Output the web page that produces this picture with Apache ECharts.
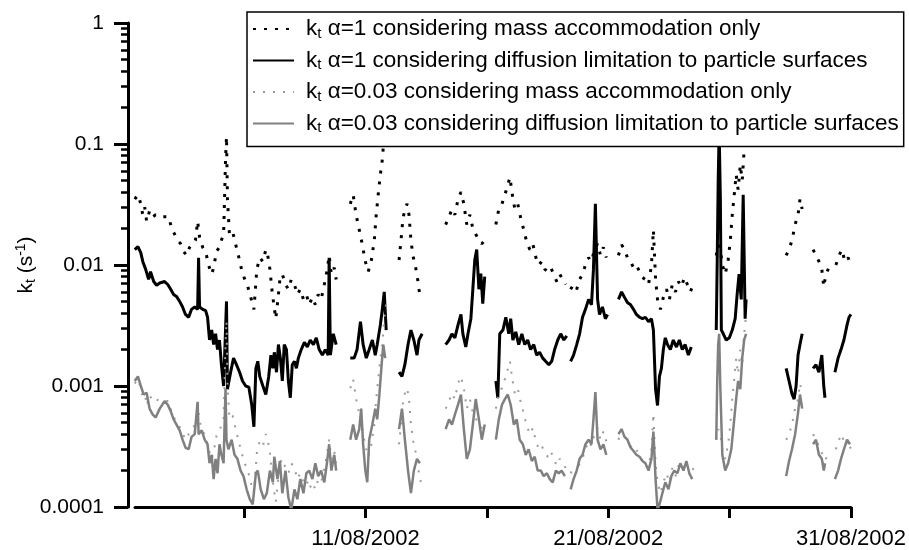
<!DOCTYPE html>
<html><head><meta charset="utf-8">
<script src="https://cdn.jsdelivr.net/npm/echarts@6/dist/echarts.min.js"></script>
<style>html,body{margin:0;padding:0;background:#fff}#c{width:909px;height:550px}</style>
</head><body><div id="c"></div>
<script>
// ---- labels ----
const seriesNames = [
  'α=1 considering mass accommodation only',
  'α=1 considering diffusion limitation to particle surfaces',
  'α=0.03 considering mass accommodation only',
  'α=0.03 considering diffusion limitation to particle surfaces'
];
const xTickDays = [6, 11, 16, 21, 26, 31];
const xLabelDays = [11, 21, 31];
const xLabelSuffix = '/08/2002';
const yTickValues = [0.0001, 0.001, 0.01, 0.1, 1];
const yTickLabels = ['0.0001', '0.001', '0.01', '0.1', '1'];

// ---- data: [day of August 2002, k_t (s^-1)], one inner array per continuous segment ----
const dottedAlpha1 = [
  [[1.49,0.035],[1.62,0.038],[1.74,0.032],[1.82,0.026],[1.90,0.030],[1.98,0.023],[2.10,0.028],[2.23,0.025],[2.35,0.026],[2.52,0.025],[2.72,0.025],[2.89,0.025],[3.01,0.020],[3.13,0.018],[3.25,0.016],[3.38,0.015],[3.50,0.013],[3.62,0.012],[3.75,0.014],[3.87,0.015],[3.99,0.016],[4.08,0.023],[4.16,0.017],[4.29,0.014],[4.41,0.013],[4.53,0.010],[4.66,0.0084],[4.74,0.0095],[4.86,0.013],[4.98,0.014],[5.06,0.016],[5.15,0.018],[5.19,0.035],[5.23,0.074],[5.27,0.115],[5.31,0.035],[5.39,0.018],[5.52,0.019],[5.64,0.015],[5.76,0.012],[5.89,0.0092],[6.02,0.0076],[6.15,0.0066],[6.27,0.0054],[6.40,0.0043],[6.52,0.0092],[6.64,0.0115],[6.77,0.0107],[6.89,0.0134],[6.97,0.012],[7.06,0.0092],[7.14,0.0063],[7.22,0.0047],[7.30,0.0036],[7.39,0.0052],[7.47,0.0076],[7.57,0.0084],[7.70,0.0069],[7.82,0.0063],[7.94,0.0076],[8.07,0.0069],[8.19,0.0057],[8.31,0.0063],[8.44,0.0052],[8.56,0.0057],[8.68,0.0047],[8.81,0.0054],[8.93,0.0047],[9.05,0.0057],[9.17,0.0052],[9.30,0.0069],[9.42,0.0092],[9.50,0.012],[9.59,0.0084],[9.71,0.0095],[9.79,0.0076]],
  [[10.37,0.032],[10.49,0.038],[10.61,0.026],[10.74,0.0195],[10.86,0.015],[10.99,0.0107],[11.11,0.0088],[11.24,0.011],[11.36,0.016],[11.44,0.026],[11.52,0.038],[11.61,0.056],[11.69,0.074],[11.77,0.12],[11.85,0.16]],
  [[12.38,0.011],[12.46,0.016],[12.54,0.024],[12.62,0.029],[12.71,0.032],[12.79,0.026],[12.87,0.016],[12.95,0.012],[13.04,0.010],[13.12,0.0084],[13.20,0.0063],[13.28,0.0052]],
  [[14.30,0.0216],[14.44,0.025],[14.56,0.029],[14.68,0.026],[14.81,0.035],[14.93,0.040],[15.05,0.032],[15.17,0.0216],[15.30,0.026],[15.42,0.020],[15.54,0.018],[15.67,0.016],[15.79,0.015],[15.91,0.016]],
  [[16.37,0.0216],[16.49,0.029],[16.62,0.032],[16.74,0.038],[16.86,0.046],[16.95,0.053],[17.03,0.040],[17.15,0.029],[17.27,0.032],[17.40,0.024],[17.52,0.0195],[17.64,0.0155],[17.77,0.0134],[17.89,0.015],[18.02,0.0115],[18.14,0.010],[18.26,0.0107],[18.39,0.0092],[18.51,0.0088],[18.63,0.0095],[18.75,0.0084],[18.88,0.0073],[19.00,0.0084],[19.12,0.0076],[19.25,0.0069]],
  [[19.45,0.0063],[19.57,0.0069],[19.70,0.0063],[19.82,0.0076],[19.94,0.0084],[20.06,0.010],[20.19,0.0115],[20.31,0.0107],[20.43,0.0134],[20.56,0.015],[20.68,0.012],[20.80,0.014],[20.92,0.0115]],
  [[21.42,0.012],[21.55,0.0147],[21.67,0.0134],[21.79,0.0115],[21.92,0.0107],[22.04,0.0095],[22.16,0.010],[22.29,0.0088],[22.41,0.0079],[22.53,0.0076],[22.66,0.0069],[22.78,0.010],[22.86,0.0195],[22.95,0.0076],[23.03,0.0052],[23.15,0.0043],[23.27,0.0054],[23.40,0.0063],[23.52,0.0052],[23.64,0.0069],[23.77,0.006],[23.89,0.0073],[24.01,0.0066],[24.14,0.0079],[24.26,0.0069],[24.38,0.006],[24.51,0.0069]],
  [[25.45,0.012],[25.53,0.0147],[25.62,0.0134],[25.70,0.010],[25.82,0.0084],[25.94,0.011],[26.03,0.016],[26.11,0.026],[26.19,0.038],[26.27,0.056],[26.35,0.042],[26.44,0.067],[26.52,0.05],[26.60,0.09],[26.68,0.13]],
  [[28.33,0.012],[28.45,0.0134],[28.57,0.016],[28.70,0.0216],[28.82,0.026],[28.90,0.035],[28.99,0.029]],
  [[29.44,0.0134],[29.56,0.012],[29.68,0.0107],[29.80,0.0092],[29.88,0.0066],[29.97,0.0084],[30.09,0.0095]],
  [[30.38,0.010],[30.51,0.012],[30.63,0.0134],[30.75,0.0107],[30.88,0.0115],[31.0,0.010]]
];

const solidAlpha1 = [
  [[1.49,0.0134],[1.62,0.0142],[1.74,0.0126],[1.82,0.0107],[1.94,0.0092],[2.06,0.0076],[2.14,0.0088],[2.27,0.0073],[2.39,0.0068],[2.52,0.0071],[2.72,0.0073],[2.85,0.0069],[2.97,0.0063],[3.09,0.0057],[3.21,0.0055],[3.34,0.0050],[3.46,0.0045],[3.58,0.0039],[3.71,0.0037],[3.83,0.0043],[3.96,0.0045],[4.08,0.0043],[4.12,0.0115],[4.16,0.0045],[4.29,0.0043],[4.41,0.0042],[4.49,0.0037],[4.57,0.0024],[4.66,0.0029],[4.74,0.0022],[4.82,0.0027],[4.90,0.0020],[4.98,0.0024],[5.06,0.0015],[5.15,0.0010],[5.23,0.0029],[5.27,0.0050],[5.31,0.00094],[5.44,0.0013],[5.56,0.0017],[5.68,0.0015],[5.81,0.0013],[5.93,0.0011],[6.06,0.0010],[6.19,0.00098],[6.31,0.0007],[6.40,0.00046],[6.48,0.0014],[6.56,0.0016],[6.64,0.0012],[6.77,0.0010],[6.89,0.00085],[7.01,0.0012],[7.10,0.0018],[7.18,0.0014],[7.24,0.0019],[7.33,0.0013],[7.41,0.0022],[7.49,0.0017],[7.57,0.0011],[7.65,0.0022],[7.74,0.0020],[7.82,0.0011],[7.90,0.0008],[7.98,0.0015],[8.07,0.0016],[8.15,0.0014],[8.23,0.0017],[8.35,0.0020],[8.48,0.0023],[8.60,0.0021],[8.72,0.0024],[8.85,0.0022],[8.97,0.0025],[9.09,0.0020],[9.22,0.0018],[9.34,0.0020],[9.46,0.0018],[9.50,0.0115],[9.55,0.0018],[9.67,0.0027],[9.79,0.0022]],
  [[10.37,0.0017],[10.53,0.0017],[10.65,0.002],[10.79,0.0034],[10.90,0.0022],[11.03,0.0017],[11.15,0.002],[11.28,0.0024],[11.40,0.0018],[11.48,0.0022],[11.61,0.0032],[11.69,0.0043],[11.77,0.006],[11.85,0.0029]],
  [[12.38,0.0013],[12.50,0.0012],[12.62,0.0015],[12.75,0.0022],[12.87,0.0029],[12.99,0.0024],[13.12,0.0018],[13.20,0.0024],[13.33,0.0027]],
  [[14.30,0.0022],[14.44,0.0024],[14.56,0.0027],[14.68,0.0025],[14.81,0.0032],[14.93,0.0039],[15.01,0.0027],[15.13,0.0021],[15.22,0.0027],[15.34,0.0036],[15.42,0.0063],[15.50,0.011],[15.58,0.0134],[15.67,0.0063],[15.75,0.0085],[15.83,0.0048],[15.91,0.008]],
  [[16.37,0.0011],[16.45,0.0008],[16.53,0.0027],[16.66,0.0029],[16.78,0.0037],[16.90,0.0027],[16.98,0.0036],[17.07,0.0024],[17.19,0.0028],[17.31,0.0022],[17.44,0.0027],[17.56,0.0022],[17.68,0.0024],[17.80,0.002],[17.93,0.0022],[18.05,0.0018],[18.17,0.0019],[18.30,0.0017],[18.42,0.0016],[18.55,0.0015],[18.67,0.0016],[18.79,0.002],[18.92,0.0024],[19.04,0.0027],[19.17,0.0024],[19.29,0.0026]],
  [[19.45,0.0016],[19.57,0.0018],[19.70,0.0022],[19.82,0.0027],[19.94,0.0037],[20.06,0.0043],[20.19,0.0052],[20.31,0.0047],[20.39,0.0092],[20.47,0.032],[20.56,0.0052],[20.64,0.0039],[20.76,0.0045],[20.88,0.0036],[20.97,0.0039]],
  [[21.42,0.0052],[21.55,0.006],[21.67,0.0054],[21.79,0.0049],[21.92,0.0047],[22.04,0.0043],[22.16,0.0039],[22.29,0.0037],[22.41,0.0036],[22.53,0.0037],[22.66,0.0034],[22.78,0.0036],[22.86,0.0029],[22.95,0.00094],[23.03,0.00069],[23.11,0.0012],[23.19,0.0014],[23.27,0.002],[23.35,0.0025],[23.44,0.0022],[23.56,0.002],[23.68,0.0024],[23.81,0.0021],[23.93,0.0024],[24.05,0.002],[24.17,0.0022],[24.30,0.0018],[24.42,0.0021]],
  [[25.45,0.0029],[25.49,0.011],[25.53,0.05],[25.57,0.13],[25.62,0.035],[25.66,0.0029],[25.74,0.0027],[25.86,0.0024],[25.99,0.0025],[26.11,0.0029],[26.23,0.0036],[26.31,0.0057],[26.39,0.0084],[26.48,0.0052],[26.56,0.038],[26.64,0.0036],[26.68,0.0052]],
  [[28.33,0.0014],[28.45,0.0011],[28.57,0.00086],[28.66,0.00078],[28.74,0.001],[28.82,0.0018],[28.90,0.0022],[28.99,0.0027]],
  [[29.44,0.0014],[29.56,0.0015],[29.68,0.0013],[29.80,0.0018],[29.88,0.001],[29.93,0.0008]],
  [[30.34,0.0013],[30.47,0.0017],[30.59,0.002],[30.71,0.0024],[30.84,0.0032],[30.92,0.0037],[31.0,0.0039]]
];

const dottedAlpha003 = [
  [[1.49,0.00105],[1.62,0.00114],[1.74,0.00096],[1.82,0.00078],[1.90,0.0009],[1.98,0.00069],[2.10,0.00084],[2.23,0.00075],[2.35,0.00078],[2.52,0.00075],[2.72,0.00075],[2.89,0.00075],[3.01,0.0006],[3.13,0.00054],[3.25,0.00048],[3.38,0.00045],[3.50,0.00039],[3.62,0.00036],[3.75,0.00042],[3.87,0.00045],[3.99,0.00048],[4.08,0.00069],[4.16,0.00051],[4.29,0.00042],[4.41,0.00039],[4.53,0.0003],[4.66,0.00025],[4.74,0.000285],[4.86,0.00039],[4.98,0.00042],[5.06,0.00048],[5.15,0.00054],[5.19,0.00105],[5.23,0.0022],[5.27,0.00345],[5.31,0.00105],[5.39,0.00054],[5.52,0.00057],[5.64,0.00045],[5.76,0.00036],[5.89,0.00028],[6.02,0.00023],[6.15,0.0002],[6.27,0.00016],[6.40,0.00013],[6.52,0.00028],[6.64,0.00035],[6.77,0.00032],[6.89,0.0004],[6.97,0.00036],[7.06,0.00028],[7.14,0.00019],[7.22,0.00014],[7.30,0.00011],[7.39,0.00016],[7.47,0.00023],[7.57,0.00025],[7.70,0.00021],[7.82,0.00019],[7.94,0.00023],[8.07,0.00021],[8.19,0.00017],[8.31,0.00019],[8.44,0.00016],[8.56,0.00017],[8.68,0.00014],[8.81,0.00016],[8.93,0.00014],[9.05,0.00017],[9.17,0.00016],[9.30,0.00021],[9.42,0.00028],[9.50,0.00036],[9.59,0.00025],[9.71,0.00029],[9.79,0.00023]],
  [[10.37,0.00096],[10.49,0.00114],[10.61,0.00078],[10.74,0.00059],[10.86,0.00045],[10.99,0.00032],[11.11,0.00026],[11.24,0.00033],[11.36,0.00048],[11.44,0.00078],[11.52,0.00114],[11.61,0.00168],[11.69,0.0022],[11.77,0.0036],[11.85,0.0048]],
  [[12.38,0.00033],[12.46,0.00048],[12.54,0.00072],[12.62,0.00087],[12.71,0.00096],[12.79,0.00078],[12.87,0.00048],[12.95,0.00036],[13.04,0.0003],[13.12,0.00025],[13.20,0.00019],[13.28,0.00016]],
  [[14.30,0.00065],[14.44,0.00075],[14.56,0.00087],[14.68,0.00078],[14.81,0.00105],[14.93,0.0012],[15.05,0.00096],[15.17,0.00065],[15.30,0.00078],[15.42,0.0006],[15.54,0.00054],[15.67,0.00048],[15.79,0.00045],[15.91,0.00048]],
  [[16.37,0.00065],[16.49,0.00087],[16.62,0.00096],[16.74,0.00114],[16.86,0.00138],[16.95,0.0016],[17.03,0.0012],[17.15,0.00087],[17.27,0.00096],[17.40,0.00072],[17.52,0.00059],[17.64,0.00047],[17.77,0.0004],[17.89,0.00045],[18.02,0.00035],[18.14,0.0003],[18.26,0.00032],[18.39,0.00028],[18.51,0.00026],[18.63,0.00029],[18.75,0.00025],[18.88,0.00022],[19.00,0.00025],[19.12,0.00023],[19.25,0.00021]],
  [[19.45,0.00019],[19.57,0.00021],[19.70,0.00019],[19.82,0.00023],[19.94,0.00025],[20.06,0.0003],[20.19,0.00035],[20.31,0.00032],[20.43,0.0004],[20.56,0.00045],[20.68,0.00036],[20.80,0.00042],[20.92,0.00035]],
  [[21.42,0.00036],[21.55,0.00044],[21.67,0.0004],[21.79,0.00035],[21.92,0.00032],[22.04,0.00029],[22.16,0.0003],[22.29,0.00026],[22.41,0.00024],[22.53,0.00023],[22.66,0.00021],[22.78,0.0003],[22.86,0.00059],[22.95,0.00023],[23.03,0.00016],[23.15,0.00013],[23.27,0.00016],[23.40,0.00019],[23.52,0.00016],[23.64,0.00021],[23.77,0.00018],[23.89,0.00022],[24.01,0.0002],[24.14,0.00024],[24.26,0.00021],[24.38,0.00018],[24.51,0.00021]],
  [[25.45,0.00036],[25.53,0.00044],[25.62,0.0004],[25.70,0.0003],[25.82,0.00025],[25.94,0.00033],[26.03,0.00048],[26.11,0.00078],[26.19,0.00114],[26.27,0.00168],[26.35,0.00126],[26.44,0.002],[26.52,0.0015],[26.60,0.0027],[26.68,0.0039]],
  [[28.33,0.00036],[28.45,0.0004],[28.57,0.00048],[28.70,0.00065],[28.82,0.00078],[28.90,0.00105],[28.99,0.00087]],
  [[29.44,0.0004],[29.56,0.00036],[29.68,0.00032],[29.80,0.00028],[29.88,0.0002],[29.97,0.00025],[30.09,0.00029]],
  [[30.38,0.0003],[30.51,0.00036],[30.63,0.0004],[30.75,0.00032],[30.88,0.00035],[31.0,0.0003]]
];

const solidAlpha003 = [
  [[1.49,0.0011],[1.62,0.0012],[1.74,0.0010],[1.86,0.00085],[1.98,0.00088],[2.10,0.00065],[2.23,0.00058],[2.35,0.00055],[2.52,0.00065],[2.72,0.00075],[2.85,0.0007],[2.97,0.00062],[3.09,0.00053],[3.21,0.00048],[3.34,0.00043],[3.46,0.00036],[3.58,0.00031],[3.71,0.0003],[3.83,0.00038],[3.96,0.0004],[4.08,0.00074],[4.12,0.0004],[4.25,0.00043],[4.37,0.00036],[4.49,0.00033],[4.57,0.00023],[4.66,0.00027],[4.74,0.00017],[4.82,0.00025],[4.90,0.00019],[4.98,0.00033],[5.06,0.00027],[5.15,0.00023],[5.23,0.00095],[5.27,0.00036],[5.35,0.0003],[5.48,0.00036],[5.60,0.00027],[5.72,0.00025],[5.85,0.0002],[5.97,0.00018],[6.10,0.00014],[6.23,0.000116],[6.35,0.000105],[6.48,0.00019],[6.56,0.0002],[6.68,0.00014],[6.81,0.000116],[6.93,0.00013],[7.06,0.0002],[7.18,0.00016],[7.24,0.00026],[7.37,0.00017],[7.47,0.00024],[7.57,0.00013],[7.70,0.0002],[7.82,0.00012],[7.94,0.000095],[8.07,0.00014],[8.19,0.000116],[8.31,0.00017],[8.44,0.00013],[8.56,0.00019],[8.68,0.0002],[8.81,0.00017],[8.93,0.00023],[9.05,0.00018],[9.17,0.0002],[9.30,0.00016],[9.42,0.00024],[9.50,0.00033],[9.59,0.0002],[9.71,0.00027],[9.79,0.0002]],
  [[10.37,0.00036],[10.49,0.00048],[10.61,0.00036],[10.74,0.00044],[10.82,0.00065],[10.90,0.00033],[10.99,0.0002],[11.07,0.00016],[11.15,0.00036],[11.28,0.00048],[11.40,0.00065],[11.48,0.00053],[11.57,0.00085],[11.65,0.0014],[11.73,0.0022],[11.81,0.0017]],
  [[12.38,0.00044],[12.50,0.00065],[12.62,0.00036],[12.75,0.0002],[12.87,0.00013],[12.99,0.0002],[13.12,0.00025],[13.24,0.00023]],
  [[14.30,0.00044],[14.44,0.00053],[14.56,0.00048],[14.68,0.00058],[14.81,0.0007],[14.93,0.00085],[15.05,0.00044],[15.17,0.00025],[15.30,0.0003],[15.42,0.00048],[15.54,0.00078],[15.67,0.00053],[15.79,0.00036],[15.91,0.00048]],
  [[16.37,0.00036],[16.49,0.00053],[16.62,0.0007],[16.74,0.00078],[16.86,0.00085],[16.98,0.0007],[17.11,0.00048],[17.23,0.00053],[17.35,0.00036],[17.48,0.00033],[17.60,0.00027],[17.72,0.0003],[17.85,0.00024],[17.97,0.00026],[18.09,0.0002],[18.22,0.0002],[18.34,0.00018],[18.47,0.00019],[18.59,0.00017],[18.71,0.00016],[18.84,0.0002],[18.96,0.00019],[19.08,0.0002],[19.21,0.00018]],
  [[19.45,0.00014],[19.57,0.00017],[19.70,0.0002],[19.82,0.00025],[19.94,0.00027],[20.06,0.00033],[20.19,0.00036],[20.31,0.00033],[20.39,0.00053],[20.47,0.00089],[20.56,0.00036],[20.68,0.0003],[20.80,0.00033],[20.92,0.00027]],
  [[21.42,0.0004],[21.55,0.00044],[21.67,0.00038],[21.79,0.00036],[21.92,0.00031],[22.04,0.00029],[22.16,0.00027],[22.29,0.00026],[22.41,0.00024],[22.53,0.00023],[22.66,0.0002],[22.78,0.00025],[22.86,0.00042],[22.95,0.00017],[23.03,0.000095],[23.11,0.000105],[23.23,0.00013],[23.35,0.00016],[23.48,0.00014],[23.60,0.00018],[23.72,0.0002],[23.85,0.00019],[23.97,0.00023],[24.10,0.0002],[24.22,0.00024],[24.34,0.00019],[24.46,0.00017]],
  [[25.45,0.00036],[25.49,0.0011],[25.53,0.0022],[25.57,0.0027],[25.62,0.00094],[25.70,0.00027],[25.82,0.0002],[25.94,0.00023],[26.07,0.0003],[26.19,0.00053],[26.27,0.00078],[26.35,0.0011],[26.44,0.00094],[26.52,0.0017],[26.60,0.0024],[26.68,0.0027]],
  [[28.33,0.00018],[28.45,0.00024],[28.57,0.0003],[28.70,0.0004],[28.82,0.0006],[28.90,0.00085],[28.99,0.00065]],
  [[29.44,0.00033],[29.56,0.00036],[29.68,0.00027],[29.80,0.00025],[29.88,0.0002],[29.93,0.00023]],
  [[30.34,0.00017],[30.47,0.0002],[30.59,0.00025],[30.71,0.0003],[30.84,0.00036],[30.96,0.00033]]
];

// ---- build ----
function joinSegments(segs) {
  const out = [];
  segs.forEach((s, i) => {
    if (i > 0) {
      const prev = segs[i - 1];
      out.push([(prev[prev.length - 1][0] + s[0][0]) / 2, '-']);
    }
    s.forEach(p => out.push(p));
  });
  return out;
}
const yMinorTicks = [];
[-4, -3, -2, -1].forEach(e => { for (let m = 2; m <= 9; m++) yMinorTicks.push(m * Math.pow(10, e)); });

const FONT = '"Liberation Sans", Arial, Helvetica, sans-serif';
function richKt(big, small) {
  return {
    k: { fontSize: big, fontFamily: FONT, color: '#000', lineHeight: 24 },
    t: { fontSize: small, fontFamily: FONT, color: '#000', lineHeight: 14, padding: [10, 0, 0, 0], verticalAlign: 'bottom' },
    r: { fontSize: big, fontFamily: FONT, color: '#000', lineHeight: 24 },
    sup: { fontSize: small, fontFamily: FONT, color: '#000', lineHeight: 14, padding: [0, 0, 10, 0], verticalAlign: 'top' }
  };
}
const legendRich = richKt(22.5, 15);
legendRich.k.padding = [0, 0, 0, 7];

const chart = echarts.init(document.getElementById('c'), null, { renderer: 'canvas' });
const styles = [
  { color: '#000', lineStyle: { color: '#000', width: 3, type: [3, 8], cap: 'butt' } },
  { color: '#000', lineStyle: { color: '#000', width: 3, type: 'solid' } },
  { color: '#9a9a9a', lineStyle: { color: '#9a9a9a', width: 2, type: [2, 8], cap: 'butt' } },
  { color: '#808080', lineStyle: { color: '#808080', width: 2.5, type: 'solid' } }
];
const allData = [dottedAlpha1, solidAlpha1, dottedAlpha003, solidAlpha003];

chart.setOption({
  animation: false,
  backgroundColor: '#fff',
  grid: { left: 135, right: 56, top: 23, bottom: 42, containLabel: false },
  legend: {
    orient: 'vertical', left: 247, top: 12,
    padding: [4, 5, 11, 5], itemGap: 6.5, itemWidth: 41, itemHeight: 14,
    borderColor: '#000', borderWidth: 1.5, backgroundColor: '#fff', borderRadius: 0,
    selectedMode: false, z: 10,
    itemStyle: { opacity: 0, borderWidth: 0 },
    data: seriesNames,
    formatter: n => '{k|k}{t|t}{r| ' + n + '}',
    textStyle: { fontFamily: FONT, fontSize: 22.5, color: '#000', rich: legendRich }
  },
  xAxis: {
    type: 'value', min: 1.5, max: 31,
    axisLine: { show: true, lineStyle: { color: '#000', width: 3 } },
    axisTick: { show: true, customValues: xTickDays, length: 11, lineStyle: { color: '#000', width: 3 } },
    axisLabel: { customValues: xLabelDays, margin: 21, fontSize: 22, fontFamily: FONT, color: '#000',
      formatter: v => (v < 10 ? '0' : '') + Math.round(v) + xLabelSuffix },
    splitLine: { show: false }
  },
  yAxis: [{
    type: 'log', logBase: 10, min: 0.0001, max: 1, position: 'left', offset: 7,
    axisLine: { show: true, onZero: false, lineStyle: { color: '#000', width: 3 } },
    axisTick: { show: true, customValues: yTickValues, length: 14, lineStyle: { color: '#000', width: 3 } },
    axisLabel: { customValues: yTickValues, margin: 24, fontSize: 21, fontFamily: FONT, color: '#000',
      formatter: v => yTickLabels[Math.round(Math.log10(v)) + 4] },
    splitLine: { show: false },
    name: '{k|k}{t|t}{r| (s}{sup|-1}{r|)}', nameLocation: 'middle', nameRotate: 90, nameGap: 90,
    nameMoveOverlap: false,
    nameTextStyle: { rich: richKt(21, 14) }
  }, {
    type: 'log', logBase: 10, min: 0.0001, max: 1, position: 'left', offset: 7,
    axisLine: { show: false },
    axisTick: { show: true, customValues: yMinorTicks, length: 7, lineStyle: { color: '#000', width: 2.5 } },
    axisLabel: { show: false }, splitLine: { show: false }
  }],
  series: allData.map((segs, i) => Object.assign({
    name: seriesNames[i], type: 'line', yAxisIndex: 0, showSymbol: false, symbol: 'none',
    clip: true, connectNulls: false, z: 2 + i,
    data: joinSegments(segs)
  }, styles[i]))
});
</script>
</body></html>
